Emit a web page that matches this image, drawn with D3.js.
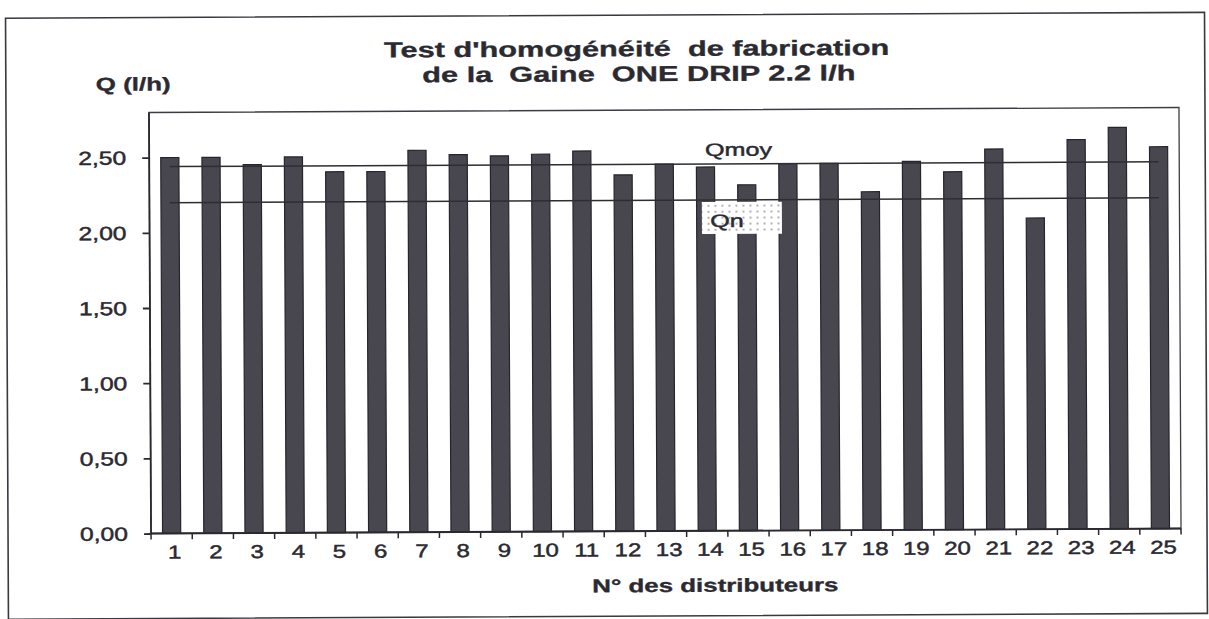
<!DOCTYPE html>
<html>
<head>
<meta charset="utf-8">
<script src="https://cdn.jsdelivr.net/npm/d3@7/dist/d3.min.js"></script>
<style>
  html, body { margin: 0; padding: 0; background: #ffffff; }
  svg { display: block; }
  text { font-family: "Liberation Sans", Arial, sans-serif; fill: #2b2a31; white-space: pre; }
</style>
</head>
<body>
<svg id="chart" width="1209" height="619"></svg>
<script>
// ---------- data ----------
const categories = ["1","2","3","4","5","6","7","8","9","10","11","12","13","14","15","16","17","18","19","20","21","22","23","24","25"];
const debits = [2.50,2.50,2.45,2.50,2.40,2.40,2.54,2.51,2.50,2.51,2.53,2.37,2.44,2.42,2.30,2.44,2.44,2.25,2.45,2.38,2.53,2.07,2.59,2.67,2.54];
const qmoy = 2.44;
const qn = 2.20;
const yTicks = [0, 0.5, 1.0, 1.5, 2.0, 2.5];
const yMax = 2.8;
const titleLines = ["Test d'homogénéité  de fabrication", "de la  Gaine  ONE DRIP 2.2 l/h"];
const yTitle = "Q (l/h)";
const xTitle = "N° des distributeurs";

// ---------- layout ----------
const svg = d3.select("#chart");
const plot = { left: 150, right: 1180, top: 110, bottom: 531 };
const SX = 1.35; // horizontal stretch of the scanned lettering

// dotted pattern for Qn label
const defs = svg.append("defs");
const pat = defs.append("pattern").attr("id", "dots").attr("patternUnits", "userSpaceOnUse")
  .attr("width", 7).attr("height", 6);
pat.append("rect").attr("width", 7).attr("height", 6).attr("fill", "#ffffff");
pat.append("circle").attr("cx", 2).attr("cy", 2).attr("r", 0.9).attr("fill", "#8d8c94");

const g = svg.append("g").attr("transform", "rotate(-0.28, 665, 320)");

// outer frame
g.append("rect").attr("x", 7).attr("y", 15).attr("width", 1199).attr("height", 601)
  .attr("fill", "none").attr("stroke", "#3a3940").attr("stroke-width", 1.6);

const x = d3.scaleBand().domain(categories).range([plot.left, plot.right])
  .paddingInner(0.56).paddingOuter(0.28);
const y = d3.scaleLinear().domain([0, yMax]).range([plot.bottom, plot.top]);
const step = x.step();
const bw = x.bandwidth();

function txt(parent, str, px, py, opts) {
  const t = parent.append("text")
    .attr("transform", `translate(${px},${py}) scale(${opts.sx || SX},1)`)
    .attr("text-anchor", opts.anchor || "middle")
    .attr("font-size", opts.size)
    .attr("font-weight", opts.bold ? "bold" : "normal")
    .attr("xml:space", "preserve")
    .attr("stroke", "#2b2a31")
    .attr("stroke-width", opts.bold ? 0.35 : 0.45)
    .text(str);
  return t;
}

// plot frame (top + right)
g.append("rect").attr("x", plot.left).attr("y", plot.top)
  .attr("width", plot.right - plot.left).attr("height", plot.bottom - plot.top)
  .attr("fill", "none").attr("stroke", "#3d3c44").attr("stroke-width", 1.3);

// bars
g.append("g").selectAll("rect").data(categories).join("rect")
  .attr("x", d => x(d))
  .attr("y", (d, i) => y(debits[i]))
  .attr("width", bw)
  .attr("height", (d, i) => y(0) - y(debits[i]))
  .attr("fill", "#48474f")
  .attr("stroke", "#26252b")
  .attr("stroke-width", 1.2);

// reference lines Qmoy and Qn
const x1 = x(categories[0]) + bw / 2;
const x2 = x(categories[categories.length - 1]) + bw / 2;
[qmoy, qn].forEach(v => {
  g.append("line").attr("x1", x1).attr("x2", x2).attr("y1", y(v)).attr("y2", y(v))
    .attr("stroke", "#2e2d34").attr("stroke-width", 1.5);
});

// Qmoy label
txt(g, "Qmoy", x(categories[14]) + bw / 2 - 8, y(qmoy) - 8, { size: 18, sx: 1.4 });

// Qn label box
const qnCx = x(categories[14]) + bw / 2 - 5;
g.append("rect").attr("x", qnCx - 40).attr("y", y(qn) + 2).attr("width", 80).attr("height", 32)
  .attr("fill", "url(#dots)");
txt(g, "Qn", qnCx - 15, y(qn) + 27, { size: 18, sx: 1.4 });

// y axis
const yAxis = g.append("g").attr("transform", `translate(${plot.left},0)`)
  .call(d3.axisLeft(y).tickValues(yTicks).tickSize(7).tickFormat(""));
yAxis.selectAll("path, line").attr("stroke", "#2a2930").attr("stroke-width", 1.8);
yAxis.select("path").attr("d", `M0,${plot.top}V${plot.bottom}`);
yTicks.forEach(v => {
  txt(g, d3.format(".2f")(v).replace(".", ","), 127, y(v) + 7, { size: 19, anchor: "end", sx: 1.3 });
});

// x axis
const xAxis = g.append("g").attr("transform", `translate(0,${plot.bottom})`)
  .call(d3.axisBottom(x).tickSize(0).tickFormat(""));
xAxis.selectAll("path, line").attr("stroke", "#2a2930").attr("stroke-width", 1.8);
xAxis.select("path").attr("d", `M${plot.left},0H${plot.right}`);
const boundaries = categories.map(c => x(c) - (step - bw) / 2).concat([plot.right]);
xAxis.selectAll("line.bt").data(boundaries).join("line").attr("class", "bt")
  .attr("x1", d => d).attr("x2", d => d).attr("y1", 0).attr("y2", 6)
  .attr("stroke", "#2a2930").attr("stroke-width", 1.5);
categories.forEach(c => {
  txt(g, c, x(c) + bw / 2 + 3, plot.bottom + 25, { size: 18.5, sx: 1.3 });
});

// titles
txt(g, titleLines[0], 638, 56, { size: 21.5, bold: true, sx: 1.43 });
txt(g, titleLines[1], 640, 81, { size: 21.5, bold: true, sx: 1.43 });
txt(g, yTitle, 97, 88, { size: 18.5, bold: true, anchor: "start", sx: 1.4 });
txt(g, xTitle, 714, 592, { size: 18.5, bold: true, sx: 1.4 });
</script>
</body>
</html>
